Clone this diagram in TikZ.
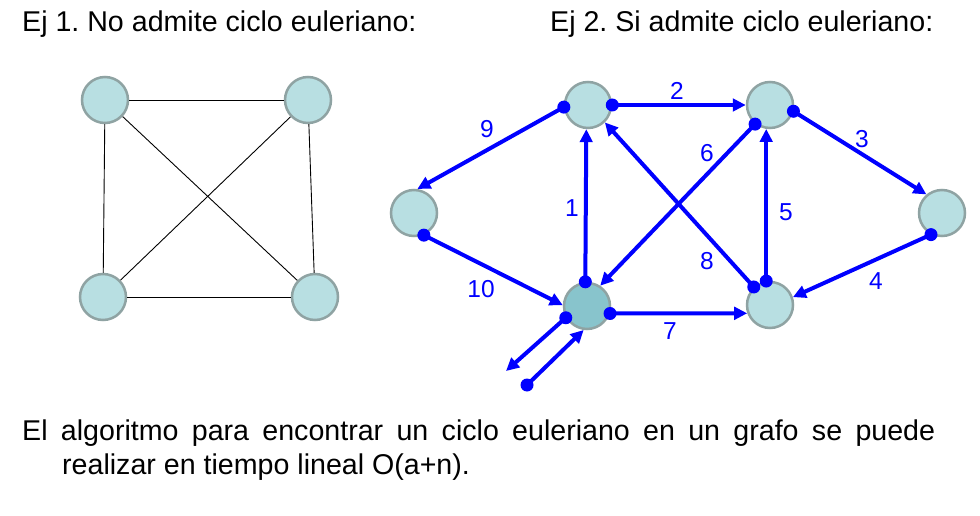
\documentclass[tikz,border=0pt]{standalone}
\usepackage{fontspec}
\setmainfont{Liberation Sans}
\usetikzlibrary{arrows.meta}
\definecolor{nodefill}{HTML}{B8DFE2}
\definecolor{nodedark}{HTML}{88C4CC}
\definecolor{nodeline}{HTML}{8FA3A3}
\definecolor{edgeblue}{HTML}{0000FF}
\frenchspacing
\tikzset{
  vnode/.style={circle, draw=nodeline, fill=nodefill, line width=2.5pt, minimum size=46pt, inner sep=0pt},
  thinedge/.style={draw=black, line width=0.9pt},
  dedge/.style={draw=edgeblue, line width=4pt, -{Triangle[length=13pt,width=12.5pt]}},
  dotc/.style={fill=edgeblue},
  elabel/.style={text=edgeblue, font=\fontsize{24.5}{24.5}\selectfont, inner sep=0pt},
  title/.style={font=\fontsize{28.6}{28.6}\selectfont, inner sep=0pt, anchor=base west},
}
\begin{document}
\begin{tikzpicture}[x=1pt,y=-1pt]
\useasboundingbox (0,0) rectangle (980,516);
\fill[white] (0,0) rectangle (980,516);

% titles
\node[title] (t1) at (22,32) {Ej 1. No admite ciclo euleriano:};
\node[title] (t2) at (550,32) {Ej 2. Si admite ciclo euleriano:};

% left graph
\node[vnode] (A) at (105,100) {};
\node[vnode] (B) at (308,100) {};
\node[vnode] (C) at (103,297) {};
\node[vnode] (D) at (315,297) {};
\draw[thinedge] (A) -- (B);
\draw[thinedge] (A) -- (C);
\draw[thinedge] (B) -- (D);
\draw[thinedge] (C) -- (D);
\draw[thinedge] (A) -- (D);
\draw[thinedge] (B) -- (C);

% right graph
\node[vnode] (T1) at (588,105) {};
\node[vnode] (T2) at (770,105) {};
\node[vnode] (L) at (414,213) {};
\node[vnode] (R) at (942,213) {};
\node[vnode, fill=nodedark] (M) at (587,306) {};
\node[vnode] (N) at (770,305) {};

\coordinate (o1) at (506,371);
\coordinate (i1) at (527,385);

% edges: dot at start, arrow at end
\draw[dedge] (T1.0) -- (T2.180);
\fill[dotc] (T1.0) circle (6.5);
\draw[dedge] (T2.-15) -- (R.130);
\fill[dotc] (T2.-15) circle (6.5);
\draw[dedge] (R.243) -- (N.19);
\fill[dotc] (R.243) circle (6.5);
\draw[dedge] (N.99) -- (T2.261);
\fill[dotc] (N.99) circle (6.5);
\draw[dedge] (T2.232) -- (M.57);
\fill[dotc] (T2.232) circle (6.5);
\draw[dedge] (M.-18) -- (N.200);
\fill[dotc] (M.-18) circle (6.5);
\draw[dedge] (N.132) -- (T1.-46);
\fill[dotc] (N.132) circle (6.5);
\draw[dedge] (M.94) -- (T1.266);
\fill[dotc] (M.94) circle (6.5);
\draw[dedge] (T1.185) -- (L.82);
\fill[dotc] (T1.185) circle (6.5);
\draw[dedge] (L.-66) -- (M.178);
\fill[dotc] (L.-66) circle (6.5);
\draw[dedge] (M.209) -- (o1);
\fill[dotc] (M.209) circle (6.5);
\draw[dedge] (i1) -- (M.262);
\fill[dotc] (i1) circle (6.5);

% labels
\node[elabel] (l1) at (572,208) {1};
\node[elabel] (l2) at (677,91) {2};
\node[elabel] (l3) at (862,139) {3};
\node[elabel] (l4) at (876,281) {4};
\node[elabel] (l5) at (786,212) {5};
\node[elabel] (l6) at (707,153) {6};
\node[elabel] (l7) at (670,331) {7};
\node[elabel] (l8) at (707,261) {8};
\node[elabel] (l9) at (487,129) {9};
\node[elabel] (l10) at (481,289) {10};

% bottom text
\node[title] (b1) at (22,440) {\makebox[913pt][s]{El algoritmo para encontrar un ciclo euleriano en un grafo se puede}};
\node[title] (b2) at (62,474) {realizar en tiempo lineal O(a+n).};
\end{tikzpicture}
\end{document}
